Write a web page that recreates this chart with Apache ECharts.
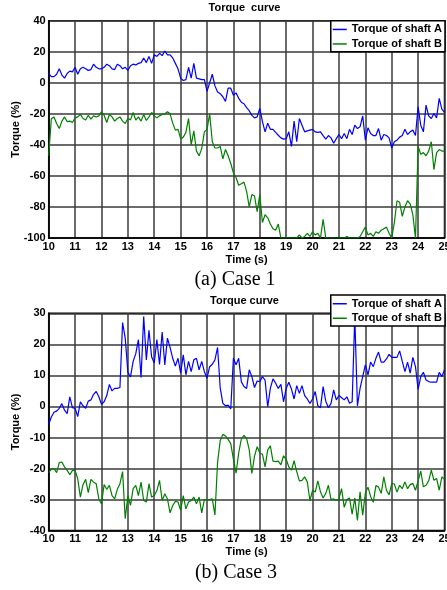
<!DOCTYPE html>
<html>
<head>
<meta charset="utf-8">
<script src="https://cdn.jsdelivr.net/npm/echarts@6/dist/echarts.min.js"></script>
<style>
  html, body { margin: 0; padding: 0; background: #fff; }
  #main { width: 447px; height: 590px; }
</style>
</head>
<body>
<div id="main"></div>
<script>
// sampling of the time axis (s)
var T0 = 10, DT = 0.1;
var seriesNames = ['Torque of shaft A', 'Torque of shaft B'];

// Case 1, torque in %, one value every 0.1 s from 10 s to 25 s
var case1A = [
  6, 4, 4, 5.5, 9, 5, 3, 6, 7.5, 7,
  10, 5.5, 9, 10, 9, 8, 8.5, 12, 10, 9,
  9, 10, 12, 11, 9, 8.5, 12, 11, 9, 10,
  8, 11, 12, 11.5, 12.5, 13, 16, 13, 17, 12.5,
  18, 17, 19, 17.5, 20.5, 18, 18, 16, 12.5, 9,
  3, 1.5, 2, 10, 3, 12.5, 3, 2.5, 2, 2,
  -5.5, 0, 5.5, -2, -6, -7, -9, -12, -3.5, -3.5,
  -8, -6.5, -10, -12.5, -13.5, -16, -18, -21, -22.6, -22,
  -16.5, -25, -31.6, -26, -30, -30, -32, -33.8, -35.5, -36.3,
  -36, -31.6, -41, -24.7, -38, -23, -27.3, -31.6, -31, -30.5,
  -30, -31.6, -32, -31.6, -34, -36.3, -34, -35.5, -39, -36,
  -33.3, -36, -32.7, -36, -30, -33.3, -27.3, -29.5, -28.4, -21.3,
  -37, -29, -32.7, -34, -34, -29.5, -37, -33.3, -34, -35.5,
  -42, -38, -37, -35, -34, -30, -33.3, -31.6, -30.5, -34,
  -15.5, -27.3, -31.6, -14.4, -21.3, -23, -19.8, -22.6, -10, -17,
  -19
];
var case1B = [
  -47, -23.2, -22, -26.2, -29.5, -24.7, -22, -25, -24.7, -25.6,
  -22.6, -22, -20.4, -23, -24, -20.9, -23.4, -21.3, -22, -21.3,
  -18.7, -20.9, -25.6, -20.4, -22, -24.7, -23, -22, -24.7, -26.2,
  -23, -23.9, -19.1, -24, -22, -24.7, -20.4, -24.3, -22, -19.1,
  -21.3, -22.6, -21.3, -20.4, -20, -18.7, -20, -26, -30.5, -30,
  -36, -35, -32, -23, -40, -31, -44, -47, -42.4, -31.6,
  -30, -20, -38, -42, -42, -41, -49, -43, -47, -52,
  -58, -61, -66, -65, -64, -70, -80, -72, -73, -83,
  -72, -90, -85, -87, -91, -94, -95, -91, -100, -100,
  -100, -100, -100, -100, -100, -98, -100, -99, -97, -99,
  -96, -98, -97, -100, -88, -100, -100, -100, -100, -100,
  -100, -100, -100, -99, -100, -100, -100, -100, -99, -96,
  -93, -98, -97, -99, -96, -97, -95, -94, -93, -97,
  -100, -90, -76, -77, -86, -80, -76, -78, -85, -100,
  -41, -46, -45, -47, -44, -38, -56, -45, -43, -44,
  -44
];

// Case 3
var case3A = [
  -5.8, -3.4, -1.9, -1.5, -0.6, 0.9, -1.2, -2.3, 3.1, -0.4,
  -0.6, -3.3, 1.5, 0.2, -0.6, 1.7, 2.1, 3.9, 4.8, 3.1,
  0.7, 1.5, 3.5, 7.1, 5.0, 5.8, 5.8, 6.1, 27, 22,
  11, 9.5, 14.5, 17, 21.5, 9.3, 29, 15, 24.5, 16,
  14, 21.5, 13.5, 24, 13.4, 22, 19, 15.5, 13, 15.5,
  10.7, 16.6, 10.2, 14.5, 11.2, 15, 15.5, 11.8, 14.5, 11.2,
  9.1, 12.8, 13.6, 15, 19, 6, 1, 0.2, 0.4, -0.8,
  15.5, 13.4, 15.5, 8.0, 6.4, 5.8, 11.8, 9.6, 6.1, 8.2,
  8.0, 9.6, 8.5, -0.1, 5.8, 8.9, 7.5, 5.8, 7.1, 1.5,
  5.8, 7.8, 5.6, 2.4, 6.7, 4.2, 6.7, 3.5, 2.4, 1.0,
  2.4, 4.8, 0.2, -0.4, 6.4, 1.7, -0.4, 1.0, 5.3, 2.1,
  3.5, 2.8, 2.1, 3.1, 1.0, 1.5, 29, 0.2, 5.8, 9.6,
  13.4, 10.2, 14.3, 12.8, 15.5, 17.5, 14.3, 14.3, 15.3, 16.8,
  15.8, 15.8, 15.8, 17.9, 14.5, 11.2, 14.3, 10.7, 15.8, 12.8,
  5.5, 9.6, 11.0, 8.5, 8.0, 7.8, 7.8, 7.8, 11.0, 9.6,
  11.8
];
var case3B = [
  -21.3, -20.2, -20, -21.3, -18.1, -17.9, -19.5, -20.6, -22, -20.6,
  -20.6, -23.3, -29.2, -25.2, -23.5, -27.8, -23.5, -24.4, -24.9, -29.8,
  -31.4, -25.2, -26.7, -25.4, -28.7, -29.8, -26.7, -24.9, -21, -36.2,
  -28.7, -31.9, -26.5, -25.4, -28.7, -24.4, -30.3, -30.8, -24.9, -29.2,
  -28.7, -27.1, -23.8, -30.3, -28.1, -29.8, -34.3, -31.9, -30.6, -30.8,
  -33.5, -28.7, -33, -30.8, -30.3, -29.2, -31.4, -29.2, -34.3, -30,
  -30, -30, -29.8, -35, -18, -11, -9, -9.5, -10.6, -12,
  -17, -21.5, -15, -10.5, -9.3, -10.3, -14, -21.6, -16, -13,
  -15, -15.4, -19.5, -14, -12.7, -17.6, -17.8, -17.6, -18.8, -15.9,
  -17, -19.5, -20.5, -17.5, -21, -24, -23.8, -22.7, -24.3, -30.3,
  -27, -27.6, -24, -27.5, -29.5, -28, -25.4, -30, -29.8, -30.3,
  -29.8, -26.5, -32.5, -30, -29.5, -34.7, -29.5, -36.7, -27.5, -35,
  -28, -26, -29, -30.9, -25.5, -26, -28, -22.7, -27, -28.5,
  -24.8, -25, -27.6, -25.4, -26.5, -24.3, -26.5, -25.2, -24.8, -27,
  -24, -20.8, -25.9, -25.4, -24, -20.5, -23.8, -23.2, -27, -22.7,
  -23.5
];

// axis ranges
var xRange = [10, 25, 1];
var yRange1 = [-100, 40, 20];
var yRange3 = [-40, 30, 10];

var font = 'Liberation Sans, Arial, sans-serif';
var bold11 = { fontSize: 11, fontWeight: 'bold', color: '#000', fontFamily: font };

function pairs(vals) {
  return vals.map(function (v, i) { return [+(T0 + i * DT).toFixed(1), v]; });
}

function xAxis(idx) {
  return {
    type: 'value', gridIndex: idx, min: xRange[0], max: xRange[1], interval: xRange[2],
    name: 'Time (s)', nameLocation: 'middle', nameGap: 16, nameTextStyle: bold11,
    nameMoveOverlap: false,
    axisLine: { onZero: false, lineStyle: { color: '#000', width: 1.5 } },
    axisTick: { show: false },
    axisLabel: Object.assign({ margin: 3 }, bold11),
    splitLine: { lineStyle: { color: '#3a3a3a', width: 1.5 } }
  };
}
function yAxis(idx, r) {
  return {
    type: 'value', gridIndex: idx, min: r[0], max: r[1], interval: r[2],
    name: 'Torque (%)', nameLocation: 'middle', nameGap: 27, nameTextStyle: bold11,
    nameMoveOverlap: false,
    axisLine: { onZero: false, lineStyle: { color: '#000', width: 1.5 } },
    axisTick: { show: false },
    axisLabel: Object.assign({ margin: 3 }, bold11),
    splitLine: { lineStyle: { color: '#3a3a3a', width: 1.5 } }
  };
}
function line(name, idx, vals, color) {
  return {
    name: name, type: 'line', xAxisIndex: idx, yAxisIndex: idx,
    data: pairs(vals), symbol: 'none', showSymbol: false,
    lineStyle: { width: 1.2, color: color }, itemStyle: { color: color }
  };
}
function legend(top) {
  return {
    orient: 'vertical', right: 2, top: top, icon: 'rect',
    itemWidth: 14, itemHeight: 1.5, itemGap: 1,
    padding: [2, 3, 1, 2], backgroundColor: '#fff',
    borderColor: '#000', borderWidth: 1.5, borderRadius: 0,
    textStyle: Object.assign({ lineHeight: 13.5 }, bold11),
    data: seriesNames
  };
}
function label(text, x, y, f) {
  return {
    type: 'text', x: x, y: y, z: 10,
    style: { text: text, font: f, fill: '#000', align: 'center', verticalAlign: 'middle',
             textAlign: 'center', textVerticalAlign: 'middle' }
  };
}
function grid(top) {
  return {
    left: 48.7, top: top, width: 395.8, height: 217.3,
    outerBoundsMode: 'none', containLabel: false,
    show: true, borderColor: '#000', borderWidth: 1.5
  };
}

var chart = echarts.init(document.getElementById('main'));
chart.setOption({
  animation: false,
  backgroundColor: '#fff',
  color: ['#0000ff', '#008000', '#0000ff', '#008000'],
  grid: [grid(20.7), grid(313.3)],
  xAxis: [xAxis(0), xAxis(1)],
  yAxis: [yAxis(0, yRange1), yAxis(1, yRange3)],
  legend: [legend(20.7), legend(295)],
  series: [
    line(seriesNames[0], 0, case1A, '#0000ff'),
    line(seriesNames[1], 0, case1B, '#008000'),
    line(seriesNames[0], 1, case3A, '#0000ff'),
    line(seriesNames[1], 1, case3B, '#008000')
  ],
  graphic: [
    label('Torque  curve', 244.5, 8, 'bold 11px Liberation Sans'),
    label('Torque curve', 244.5, 301, 'bold 11px Liberation Sans'),
    label('(a) Case 1', 235, 280, '20px Liberation Serif'),
    label('(b) Case 3', 236, 572.5, '20px Liberation Serif')
  ]
});
</script>
</body>
</html>
